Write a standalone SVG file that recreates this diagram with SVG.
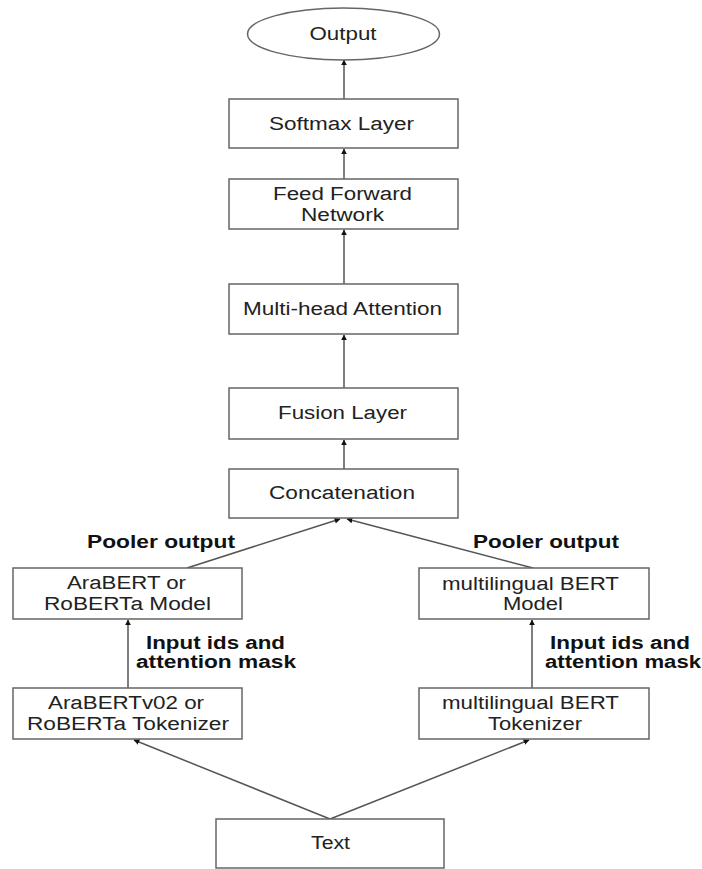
<svg xmlns="http://www.w3.org/2000/svg" width="702" height="869" viewBox="0 0 702 869">
<defs>
<style>
.box{fill:#fff;stroke:#666;stroke-width:1.5}
.t{font-family:"Liberation Sans",Arial,sans-serif;font-size:18px;fill:#222;text-anchor:middle}
.b{font-family:"Liberation Sans",Arial,sans-serif;font-size:18px;font-weight:bold;fill:#111;text-anchor:middle}
.c{stroke:#555;stroke-width:1.5;fill:none;marker-end:url(#ah)}
</style>
<marker id="ah" viewBox="0 0 10 10" refX="9" refY="5" markerWidth="6" markerHeight="6" orient="auto" markerUnits="userSpaceOnUse">
<path d="M0,0 L10,5 L0,10 z" fill="#111"/>
</marker>
</defs>
<rect width="702" height="869" fill="#fff"/>
<g id="connectors">
<line class="c" x1="344" y1="99" x2="344" y2="60"/>
<line class="c" x1="344" y1="179" x2="344" y2="149"/>
<line class="c" x1="344" y1="284" x2="344" y2="230"/>
<line class="c" x1="344" y1="388" x2="344" y2="335"/>
<line class="c" x1="344" y1="469" x2="344" y2="440"/>
<line class="c" x1="187" y1="568" x2="340" y2="519"/>
<line class="c" x1="533" y1="568" x2="347" y2="519"/>
<line class="c" x1="128" y1="688" x2="128" y2="620"/>
<line class="c" x1="532" y1="688" x2="532" y2="620"/>
<line class="c" x1="330" y1="819" x2="134" y2="740"/>
<line class="c" x1="330" y1="819" x2="529" y2="740"/>
</g>
<g id="edge-labels">
<text class="b" x="161" y="548" textLength="148" lengthAdjust="spacingAndGlyphs">Pooler output</text>
<text class="b" x="546" y="548" textLength="146" lengthAdjust="spacingAndGlyphs">Pooler output</text>
<text class="b" x="215.5" y="649" textLength="139" lengthAdjust="spacingAndGlyphs">Input ids and</text>
<text class="b" x="216" y="668" textLength="160" lengthAdjust="spacingAndGlyphs">attention mask</text>
<text class="b" x="620" y="649" textLength="140" lengthAdjust="spacingAndGlyphs">Input ids and</text>
<text class="b" x="623" y="668" textLength="156" lengthAdjust="spacingAndGlyphs">attention mask</text>
</g>
<g id="output">
<ellipse class="box" cx="343.5" cy="34" rx="96" ry="26"/>
<text class="t" x="343" y="40" textLength="67" lengthAdjust="spacingAndGlyphs">Output</text>
</g>
<g id="softmax">
<rect class="box" x="229" y="99" width="229" height="49"/>
<text class="t" x="341.5" y="130" textLength="145" lengthAdjust="spacingAndGlyphs">Softmax Layer</text>
</g>
<g id="ffn">
<rect class="box" x="229" y="179" width="229" height="50"/>
<text class="t" x="342.5" y="200" textLength="139" lengthAdjust="spacingAndGlyphs">Feed Forward</text>
<text class="t" x="342.5" y="221" textLength="83" lengthAdjust="spacingAndGlyphs">Network</text>
</g>
<g id="mha">
<rect class="box" x="229" y="284" width="229" height="50"/>
<text class="t" x="342.5" y="315" textLength="199" lengthAdjust="spacingAndGlyphs">Multi-head Attention</text>
</g>
<g id="fusion">
<rect class="box" x="229" y="388" width="229" height="51"/>
<text class="t" x="342.5" y="419" textLength="129" lengthAdjust="spacingAndGlyphs">Fusion Layer</text>
</g>
<g id="concat">
<rect class="box" x="229" y="469" width="229" height="49"/>
<text class="t" x="342" y="499" textLength="146" lengthAdjust="spacingAndGlyphs">Concatenation</text>
</g>
<g id="arabert-model">
<rect class="box" x="13" y="568" width="229" height="51"/>
<text class="t" x="126.5" y="589" textLength="119" lengthAdjust="spacingAndGlyphs">AraBERT or</text>
<text class="t" x="127.5" y="610" textLength="167" lengthAdjust="spacingAndGlyphs">RoBERTa Model</text>
</g>
<g id="mbert-model">
<rect class="box" x="419" y="568" width="230" height="51"/>
<text class="t" x="530.5" y="590" textLength="177" lengthAdjust="spacingAndGlyphs">multilingual BERT</text>
<text class="t" x="533" y="610" textLength="60" lengthAdjust="spacingAndGlyphs">Model</text>
</g>
<g id="arabert-tokenizer">
<rect class="box" x="13" y="688" width="229" height="51"/>
<text class="t" x="126" y="709" textLength="156" lengthAdjust="spacingAndGlyphs">AraBERTv02 or</text>
<text class="t" x="128" y="730" textLength="202" lengthAdjust="spacingAndGlyphs">RoBERTa Tokenizer</text>
</g>
<g id="mbert-tokenizer">
<rect class="box" x="419" y="688" width="230" height="51"/>
<text class="t" x="530.5" y="709" textLength="177" lengthAdjust="spacingAndGlyphs">multilingual BERT</text>
<text class="t" x="535" y="730" textLength="94" lengthAdjust="spacingAndGlyphs">Tokenizer</text>
</g>
<g id="text">
<rect class="box" x="216" y="819" width="228" height="49"/>
<text class="t" x="330.5" y="849" textLength="39" lengthAdjust="spacingAndGlyphs">Text</text>
</g>
</svg>
